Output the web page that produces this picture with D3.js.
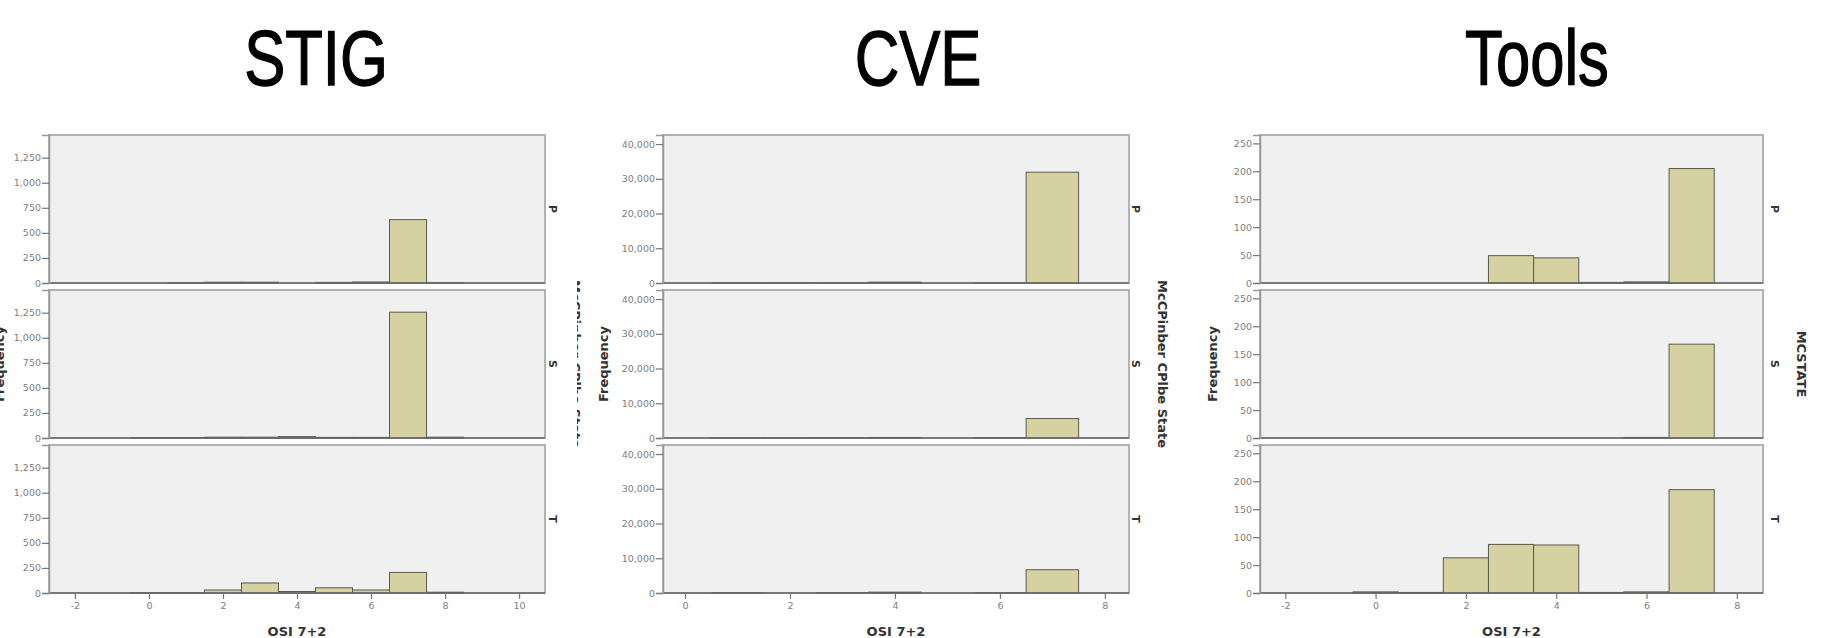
<!DOCTYPE html>
<html>
<head>
<meta charset="utf-8">
<script src="https://cdn.jsdelivr.net/npm/d3@7"></script>
<style>
  html, body { margin: 0; padding: 0; background: #fff; }
  svg { display: block; }
</style>
</head>
<body>
<svg id="chart" width="1846" height="638"></svg>
<script>
// ---------------- DATA ----------------
const chartTitles = ["STIG", "CVE", "Tools"];
const facetStates = ["P", "S", "T"];
const xAxisTitle = "OSI 7+2";
const yAxisTitle = "Frequency";
const stateLabels = ["McCPinber CPlbe State", "McCPinber CPlbe State", "MCSTATE"];

// STIG histogram (bins centred on integer OSI values)
const stigBins = [0, 1, 2, 3, 4, 5, 6, 7, 8];
const stigP    = [0, 3, 8, 8, 0, 6, 10, 632, 5];
const stigS    = [2, 3, 8, 8, 14, 6, 6, 1255, 8];
const stigT    = [3, 3, 30, 100, 15, 52, 30, 205, 8];
const stigXTicks = [-2, 0, 2, 4, 6, 8, 10];
const stigYTicks = [0, 250, 500, 750, 1000, 1250];
const stigXDomain = [-2.7, 10.7];
const stigYMax = 1476;

// CVE histogram
const cveBins = [0, 1, 2, 3, 4, 5, 6, 7];
const cveP    = [0, 60, 60, 80, 250, 0, 100, 31900];
const cveS    = [0, 20, 20, 30, 150, 0, 40, 5600];
const cveT    = [0, 60, 0, 100, 250, 0, 50, 6700];
const cveXTicks = [0, 2, 4, 6, 8];
const cveYTicks = [0, 10000, 20000, 30000, 40000];
const cveXDomain = [-0.42, 8.46];
const cveYMax = 42600;

// Tools histogram
const toolsBins = [0, 1, 2, 3, 4, 5, 6, 7];
const toolsP    = [0, 0, 0, 49, 45, 1, 2, 205];
const toolsS    = [0, 0, 0, 0, 0, 0, 1, 168];
const toolsT    = [2, 1, 63, 87, 86, 1, 2, 185];
const toolsXTicks = [-2, 0, 2, 4, 6, 8];
const toolsYTicks = [0, 50, 100, 150, 200, 250];
const toolsXDomain = [-2.56, 8.58];
const toolsYMax = 265;

// ---------------- LAYOUT ----------------
const charts = [
  { title: chartTitles[0], bins: stigBins, series: [stigP, stigS, stigT], xTicks: stigXTicks, yTicks: stigYTicks,
    xDomain: stigXDomain, yMax: stigYMax, left: 49, right: 545, titleX: 316,
    freqX: 4, facetX: 553, stateX: 576, stateClip: [577, 583] },
  { title: chartTitles[1], bins: cveBins, series: [cveP, cveS, cveT], xTicks: cveXTicks, yTicks: cveYTicks,
    xDomain: cveXDomain, yMax: cveYMax, left: 663, right: 1129, titleX: 918,
    freqX: 608, facetX: 1136, stateX: 1163, stateClip: null },
  { title: chartTitles[2], bins: toolsBins, series: [toolsP, toolsS, toolsT], xTicks: toolsXTicks, yTicks: toolsYTicks,
    xDomain: toolsXDomain, yMax: toolsYMax, left: 1260, right: 1763, titleX: 1537,
    freqX: 1217, facetX: 1775, stateX: 1802, stateClip: null }
];
const panelTops = [135, 290, 445];
const panelH = 148;

const svg = d3.select("#chart");
const defs = svg.append("defs");

const tickFont = "DejaVu Sans, Verdana, sans-serif";
const labelColor = "#333";

function rotText(g, x, y, angle, text, size) {
  return g.append("text")
    .attr("transform", `translate(${x},${y}) rotate(${angle})`)
    .attr("text-anchor", "middle")
    .attr("dy", "0.35em")
    .attr("font-family", tickFont)
    .attr("font-weight", "bold")
    .attr("font-size", size)
    .attr("fill", labelColor)
    .text(text);
}

charts.forEach((c, ci) => {
  const g = svg.append("g");

  // Title
  g.append("text")
    .attr("transform", `translate(${c.titleX},85) scale(0.79,1)`)
    .attr("text-anchor", "middle")
    .attr("font-family", "Liberation Sans, Arial, sans-serif")
    .attr("font-size", 78)
    .attr("fill", "#000")
    .attr("stroke", "#000")
    .attr("stroke-width", 1.3)
    .text(c.title);

  const x = d3.scaleLinear().domain(c.xDomain).range([c.left, c.right]);

  facetStates.forEach((st, si) => {
    const top = panelTops[si];
    const y = d3.scaleLinear().domain([0, c.yMax]).range([top + panelH, top]);
    const pg = g.append("g");

    pg.append("rect")
      .attr("x", c.left).attr("y", top)
      .attr("width", c.right - c.left).attr("height", panelH)
      .attr("fill", "#f0f0f0")
      .attr("stroke", "#b2b2b2")
      .attr("stroke-width", 2);

    // bars
    const data = c.bins.map((b, i) => ({ bin: b, v: c.series[si][i] })).filter(d => d.v > 0);
    pg.selectAll("rect.bar").data(data).join("rect")
      .attr("class", "bar")
      .attr("x", d => x(d.bin - 0.5))
      .attr("width", d => x(d.bin + 0.5) - x(d.bin - 0.5))
      .attr("y", d => y(d.v))
      .attr("height", d => y(0) - y(d.v))
      .attr("fill", "#d5d1a0")
      .attr("stroke", "#5a5a50")
      .attr("stroke-width", 1);

    // baseline
    pg.append("line")
      .attr("x1", c.left).attr("x2", c.right)
      .attr("y1", y(0)).attr("y2", y(0))
      .attr("stroke", "#666").attr("stroke-width", 1.6);

    // y axis
    const ya = pg.append("g")
      .attr("transform", `translate(${c.left},0)`)
      .call(d3.axisLeft(y).tickValues(c.yTicks).tickSize(7).tickPadding(1).tickFormat(d3.format(",")));
    ya.select(".domain").attr("stroke", "#999").attr("stroke-width", 1.5);
    ya.selectAll(".tick line").attr("stroke", "#777").attr("stroke-width", 1.2);
    ya.selectAll(".tick text").attr("fill", "#7e7e7e").attr("font-size", 9.5).attr("font-family", tickFont);

    // facet label
    rotText(pg, c.facetX, top + panelH / 2, 90, st, 11);

    // x axis on bottom panel
    if (si === facetStates.length - 1) {
      const xa = pg.append("g")
        .attr("transform", `translate(0,${top + panelH})`)
        .call(d3.axisBottom(x).tickValues(c.xTicks).tickSize(6).tickPadding(3).tickFormat(d => String(d)));
      xa.select(".domain").remove();
      xa.selectAll(".tick line").attr("stroke", "#777").attr("stroke-width", 1.2);
      xa.selectAll(".tick text").attr("fill", "#7e7e7e").attr("font-size", 9.5).attr("font-family", tickFont);

      g.append("text")
        .attr("x", (c.left + c.right) / 2)
        .attr("y", 636)
        .attr("text-anchor", "middle")
        .attr("font-family", tickFont)
        .attr("font-weight", "bold")
        .attr("font-size", 13)
        .attr("fill", labelColor)
        .text(xAxisTitle);
    }
  });

  const midY = (panelTops[0] + panelTops[2] + panelH) / 2;

  // Frequency label
  g.append("text")
    .attr("transform", `translate(${c.freqX},${midY}) rotate(-90)`)
    .attr("text-anchor", "middle")
    .attr("font-family", tickFont)
    .attr("font-weight", "bold")
    .attr("font-size", 13)
    .attr("fill", labelColor)
    .text(yAxisTitle);

  // State label on right
  const sl = g.append("text")
    .attr("transform", `translate(${c.stateX},${midY}) rotate(90)`)
    .attr("text-anchor", "middle")
    .attr("dy", "0.35em")
    .attr("font-family", tickFont)
    .attr("font-weight", "bold")
    .attr("font-size", 13)
    .attr("fill", labelColor)
    .text(stateLabels[ci]);
  if (c.stateClip) {
    defs.append("clipPath").attr("id", "clip" + ci)
      .attr("clipPathUnits", "userSpaceOnUse")
      .append("rect").attr("x", c.stateClip[0] - c.stateX).attr("y", -400)
      .attr("width", c.stateClip[1] - c.stateClip[0]).attr("height", 800)
      .attr("transform", `rotate(-90)`);
    sl.attr("clip-path", `url(#clip${ci})`);
  }
});
</script>
</body>
</html>
